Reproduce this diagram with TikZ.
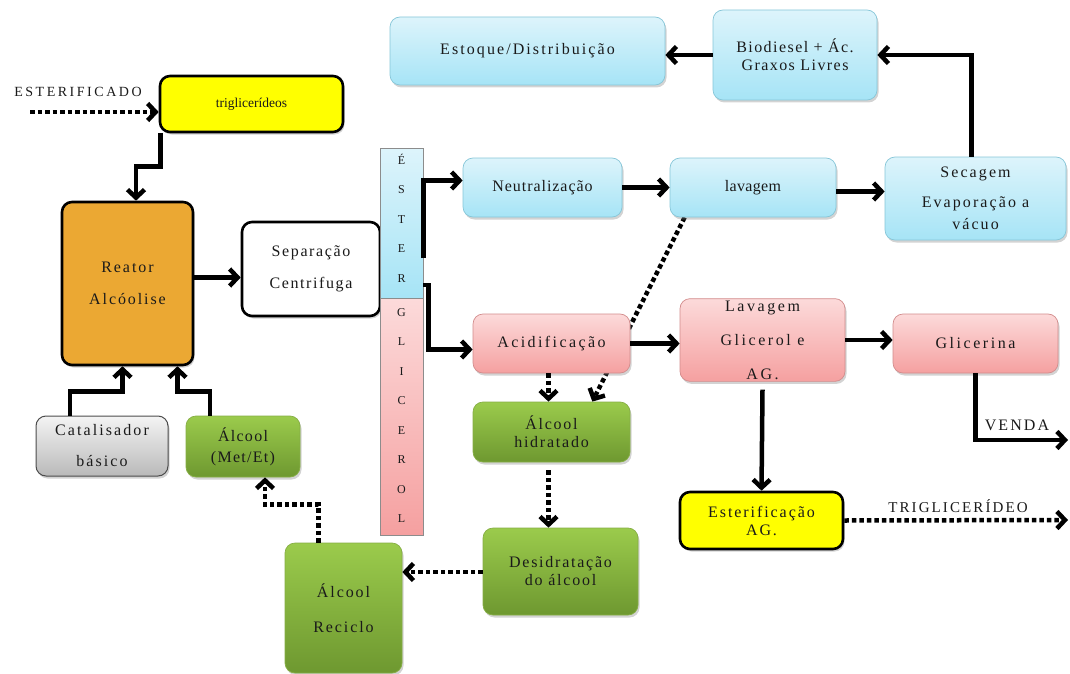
\documentclass[tikz,border=0pt]{standalone}
\usepackage{fontspec}
\setmainfont{Liberation Serif}
\usetikzlibrary{arrows.meta,shadows,calc}
\pgfdeclarelayer{background}
\pgfsetlayers{background,main}
\definecolor{blueT}{HTML}{DDF4FB}
\definecolor{blueB}{HTML}{A6E4F6}
\definecolor{blueD}{HTML}{86C6D8}
\definecolor{pinkT}{HTML}{FCDADA}
\definecolor{pinkB}{HTML}{F5A0A0}
\definecolor{pinkD}{HTML}{D28C8C}
\definecolor{greenT}{HTML}{9BCB4C}
\definecolor{greenB}{HTML}{6E9830}
\definecolor{greenD}{HTML}{86AE45}
\definecolor{orangeF}{HTML}{EBA833}
\definecolor{yellowF}{HTML}{FFFF00}
\definecolor{grayT}{HTML}{F4F4F4}
\definecolor{grayB}{HTML}{B9B9B9}
\definecolor{txt}{HTML}{1A1A1A}
\tikzset{
  ls/.style={font=\fontsize{16}{18}\selectfont\addfontfeatures{LetterSpace=#1}},
  box/.style={rounded corners=10pt, align=center, inner sep=2pt, text=txt, ls=10,
    drop shadow={opacity=0.35, shadow xshift=1.5pt, shadow yshift=-2.5pt}},
  bluebox/.style={box, top color=blueT, bottom color=blueB, draw=blueD, line width=0.7pt},
  pinkbox/.style={box, top color=pinkT, bottom color=pinkB, draw=pinkD, line width=0.7pt},
  greenbox/.style={box, top color=greenT, bottom color=greenB, draw=greenD, line width=0.7pt},
  graybox/.style={box, top color=grayT, bottom color=grayB, draw=black!70, line width=1pt},
  yellowbox/.style={box, fill=yellowF, draw=black, line width=2.6pt},
  orangebox/.style={box, fill=orangeF, draw=black, line width=2.6pt},
  whitebox/.style={box, fill=white, draw=black, line width=2.6pt},
  barbox/.style={draw=black!45, line width=0.5pt, minimum width=43, inner sep=0pt, text=txt,
    font=\fontsize{12}{29.5}\selectfont, align=center},
  arr/.style={line width=4.5pt, -{Straight Barb[length=8pt,width=17pt]}},
  darr/.style={arr, dash pattern=on 4.5pt off 3pt},
  lbl/.style={inner sep=0pt, text=txt},
}
\begin{document}
\begin{tikzpicture}[x=1pt,y=-1pt]
\useasboundingbox (0,0) rectangle (1070,674);
% nodes
\node[yellowbox, minimum width=183, minimum height=56, font=\fontsize{13.5}{16}\selectfont] (trig) at (251.5,104) {triglicerídeos};
\node[orangebox, minimum width=131, minimum height=163, ls=12] (reator) at (127.5,283.5) {Reator\\[14pt]Alcóolise};
\node[whitebox, minimum width=138, minimum height=94, ls=10] (sep) at (311,269) {Separação\\[14pt]Centrifuga};
\node[barbox, minimum height=150, top color=blueT, bottom color=blueB] (estbar) at (401.5,223)
  {\raisebox{5pt}[\height][\depth]{\parbox{20pt}{\centering É\\S\\T\\E\\R}}};
\node[barbox, minimum height=237, top color=pinkT, bottom color=pinkB] (glibar) at (401.5,416.5)
  {\raisebox{1pt}[\height][\depth]{\parbox{20pt}{\centering G\\L\\I\\C\\E\\R\\O\\L}}};
\node[bluebox, minimum width=159, minimum height=59, ls=6] (neut) at (542.5,187.5) {Neutralização};
\node[bluebox, minimum width=166, minimum height=59, ls=2] (lav) at (753,187.5) {lavagem};
\node[bluebox, minimum width=181, minimum height=83, ls=13] (sec) at (975.5,198.5) {Secagem\\[12pt]Evaporação a\\[4pt]vácuo};
\node[bluebox, minimum width=164, minimum height=90, ls=9] (bio) at (795,55) {Biodiesel + Ác.\\Graxos Livres};
\node[bluebox, minimum width=275, minimum height=68, ls=13] (est) at (527.5,51) {Estoque/Distribuição};
\node[pinkbox, minimum width=157, minimum height=59, ls=15] (acid) at (551.5,343.5) {Acidificação};
\node[pinkbox, minimum width=165, minimum height=80, ls=16] (lavg) at (762.5,340) {Lavagem\\[16pt]Glicerol e\\[16pt]AG.};
\node[pinkbox, minimum width=165, minimum height=59, ls=16] (gli) at (975.5,343.5) {Glicerina};
\node[yellowbox, minimum width=163, minimum height=57, ls=12] (esterAG) at (761.5,520.5) {Esterificação\\AG.};
\node[greenbox, minimum width=157, minimum height=60, ls=11] (alch) at (551.5,432) {Álcool\\hidratado};
\node[greenbox, minimum width=155, minimum height=87, ls=11] (desid) at (560.5,571.5) {Desidratação\\do álcool};
\node[greenbox, minimum width=117, minimum height=130, ls=12] (recic) at (343.5,608) {Álcool\\[17pt]Reciclo};
\node[greenbox, minimum width=114, minimum height=61, ls=8] (alcme) at (243,446.5) {Álcool\\[3pt](Met/Et)};
\node[graybox, minimum width=132, minimum height=60, ls=13] (cat) at (102,446) {Catalisador\\[13pt]básico};
% free ends
\coordinate (estin) at (30,112);
\coordinate (venda) at (1068,440);
\coordinate (trigout) at (1068,520);
% labels
\node[lbl, font=\fontsize{14}{16}\selectfont\addfontfeatures{LetterSpace=18}] (lestf) at (78,92) {ESTERIFICADO};
\node[lbl, ls=13] (lvenda) at (1017,425) {VENDA};
\node[lbl, font=\fontsize{15}{18}\selectfont\addfontfeatures{LetterSpace=14}] (ltrig) at (958,506) {TRIGLICERÍDEO};
% connectors
\begin{pgfonlayer}{background}
\draw[darr] ([xshift=15pt]lav.south west) -- ([xshift=-38pt]alch.north east);
\end{pgfonlayer}
\draw[darr] (estin) -- (estin -| trig.west);
\draw[arr] ([xshift=2pt]trig.south west) -- ++(0,33) -| ([xshift=8.5pt]reator.north);
\draw[arr] ([yshift=6pt]reator.east) -- ([yshift=6pt]reator.east -| sep.west);
\draw[arr] ([yshift=-35pt]estbar.east) |- ([yshift=7pt]neut.west);
\draw[arr] ([yshift=-62pt]estbar.east) -- ++(5,0) |- ([yshift=-6pt]acid.west);
\draw[arr] (neut.east) -- (neut.east -| lav.west);
\draw[arr] ([yshift=-4pt]lav.east) -- ([yshift=-4pt]lav.east -| sec.west);
\draw[arr] ([xshift=-4pt]sec.north) |- (bio.east);
\draw[arr] (bio.west) -- (bio.west -| est.east);
\draw[arr] (acid.east) -- (acid.east -| lavg.west);
\draw[arr] (lavg.east) -- (lavg.east -| gli.west);
\draw[arr] (gli.south) |- (venda);
\draw[arr] ([yshift=-8pt]lavg.south) -- (esterAG.north);
\draw[darr] (esterAG.east) -- (trigout);
\draw[darr] ([xshift=-3pt]acid.south) -- ([xshift=-3pt]alch.north);
\draw[darr] ([xshift=-3pt,yshift=-8pt]alch.south) -- ([xshift=-3pt]alch.south |- desid.north);
\draw[darr] ([yshift=-0.5pt]desid.west) -- ([yshift=-0.5pt]desid.west -| recic.east);
\draw[darr] ([xshift=-25pt]recic.north) -- ++(0,-38) -| ([xshift=22pt]alcme.south);
\draw[arr] ([xshift=-32pt]cat.north) -- ++(0,-24) -| ([xshift=-5pt]reator.south);
\draw[arr] ([xshift=-33pt]alcme.north) -- ++(0,-24) -| ([xshift=50pt]reator.south);
\end{tikzpicture}
\end{document}
